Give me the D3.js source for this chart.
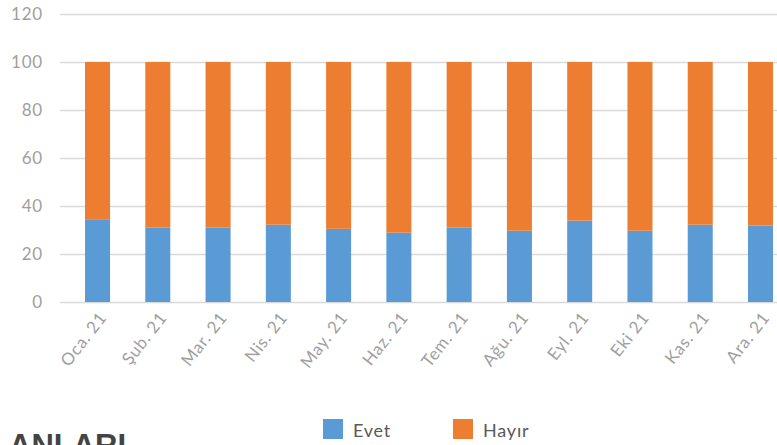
<!DOCTYPE html>
<html>
<head>
<meta charset="utf-8">
<script src="https://cdn.jsdelivr.net/npm/d3@7"></script>
<style>
  body { margin: 0; background: #fff; }
  svg { display: block; }
</style>
</head>
<body>
<div id="chart"></div>
<script>
const months = ['Oca. 21', 'Şub. 21', 'Mar. 21', 'Nis. 21', 'May. 21', 'Haz. 21',
  'Tem. 21', 'Ağu. 21', 'Eyl. 21', 'Eki 21', 'Kas. 21', 'Ara. 21']
const evet = [34.5, 31.1, 31.1, 32.2, 30.5, 28.9, 31.1, 29.7, 33.9, 29.7, 32.2, 31.9]
const hayir = [65.5, 68.9, 68.9, 67.8, 69.5, 71.1, 68.9, 70.3, 66.1, 70.3, 67.8, 68.1]
const yTicks = [0, 20, 40, 60, 80, 100, 120]
const seriesNames = ['Evet', 'Hayır']

const width = 777
const height = 445
const colors = { Evet: '#5b9bd5', 'Hayır': '#ed7d31' }
const font = 'Lato, "Open Sans", sans-serif'

const rows = months.map((m, i) => ({ month: m, Evet: evet[i], 'Hayır': hayir[i] }))
const stacked = d3.stack().keys(seriesNames)(rows)

const x = d3.scaleBand()
  .domain(months)
  .range([67.4, 67.4 + 12 * 60.27])
  .paddingInner(0.585)
  .paddingOuter(0.2925)

const y = d3.scaleLinear()
  .domain([0, 120])
  .range([302, 14])

const svg = d3.select('#chart').append('svg')
  .attr('width', width)
  .attr('height', height)

// grid lines
svg.append('g')
  .selectAll('line')
  .data(yTicks)
  .join('line')
  .attr('x1', 60)
  .attr('x2', width)
  .attr('y1', d => Math.round(y(d)) + 0.5)
  .attr('y2', d => Math.round(y(d)) + 0.5)
  .attr('stroke', '#d9d9d9')
  .attr('stroke-width', 1.5)

// y tick labels
svg.append('g')
  .attr('font-family', font)
  .attr('font-size', 17)
  .attr('fill', '#a0a0a0')
  .attr('text-anchor', 'end')
  .selectAll('text')
  .data(yTicks)
  .join('text')
  .attr('x', 43)
  .attr('y', d => y(d))
  .attr('dy', '0.35em')
  .attr('letter-spacing', 0.8)
  .text(d => d)

// bars
svg.append('g')
  .selectAll('g')
  .data(stacked)
  .join('g')
  .attr('fill', d => colors[d.key])
  .selectAll('rect')
  .data(d => d)
  .join('rect')
  .attr('x', d => x(d.data.month))
  .attr('width', x.bandwidth())
  .attr('y', d => y(d[1]))
  .attr('height', d => y(d[0]) - y(d[1]))

// x labels
svg.append('g')
  .attr('font-family', font)
  .attr('font-size', 17)
  .attr('fill', '#a0a0a0')
  .attr('text-anchor', 'end')
  .selectAll('text')
  .data(months)
  .join('text')
  .attr('transform', d => `translate(${x(d) + x.bandwidth() / 2 + 10},${318}) rotate(-52)`)
  .attr('letter-spacing', 0.7)
  .text(d => d)

// legend
const legend = svg.append('g')
  .attr('font-family', font)
  .attr('font-size', 18)
  .attr('fill', '#595959')
  .selectAll('g')
  .data(seriesNames)
  .join('g')
  .attr('transform', (d, i) => `translate(${323 + i * 130},419)`)

legend.append('rect')
  .attr('width', 20)
  .attr('height', 20)
  .attr('fill', d => colors[d])

legend.append('text')
  .attr('x', 30)
  .attr('y', 18)
  .attr('letter-spacing', 0.8)
  .text(d => d)

// heading cut off at the bottom
svg.append('text')
  .attr('x', 9)
  .attr('y', 456)
  .attr('font-family', '"Liberation Sans", Arial, sans-serif')
  .attr('font-weight', 'bold')
  .attr('font-size', 31)
  .attr('fill', '#444')
  .text('ANLARI')
</script>
</body>
</html>
